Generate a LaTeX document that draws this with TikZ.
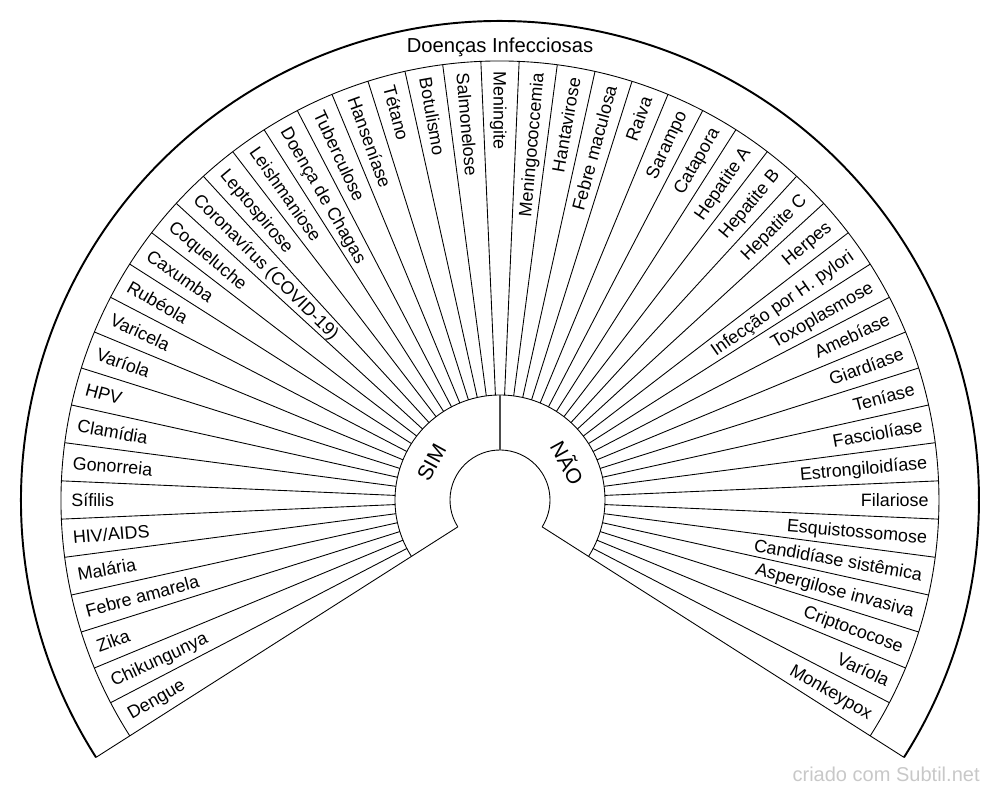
\documentclass[tikz,border=0pt]{standalone}
\usepackage{fontspec}
\setmainfont{Liberation Sans}

\begin{document}
\begin{tikzpicture}[
leafL/.style={font=\fontsize{10.2}{12}\selectfont,inner sep=0pt,text height=7.3pt,text depth=0pt,anchor=west},
leafR/.style={leafL,anchor=east},
spoke/.style={line width=0.5pt},
]
\useasboundingbox (-10,-5.94) rectangle (10,10);
% rings
\draw[spoke] (212.5:1) arc[start angle=212.5,end angle=-32.5,radius=1];
\draw[spoke] (212.5:2.1) arc[start angle=212.5,end angle=-32.5,radius=2.1];
\draw[spoke] (212.5:8.78) arc[start angle=212.5,end angle=-32.5,radius=8.78];
\draw[line width=1.1pt] (212.5:9.58) arc[start angle=212.5,end angle=-32.5,radius=9.58];
\draw[spoke] (212.5:1) -- (212.5:9.58);
\draw[spoke] (-32.5:1) -- (-32.5:9.58);
\draw[line width=0.8pt,black!70] (90:1) -- (90:2.1);
% spokes
\draw[spoke] (207.5:2.1) -- (207.5:8.78);
\draw[spoke] (202.5:2.1) -- (202.5:8.78);
\draw[spoke] (197.5:2.1) -- (197.5:8.78);
\draw[spoke] (192.5:2.1) -- (192.5:8.78);
\draw[spoke] (187.5:2.1) -- (187.5:8.78);
\draw[spoke] (182.5:2.1) -- (182.5:8.78);
\draw[spoke] (177.5:2.1) -- (177.5:8.78);
\draw[spoke] (172.5:2.1) -- (172.5:8.78);
\draw[spoke] (167.5:2.1) -- (167.5:8.78);
\draw[spoke] (162.5:2.1) -- (162.5:8.78);
\draw[spoke] (157.5:2.1) -- (157.5:8.78);
\draw[spoke] (152.5:2.1) -- (152.5:8.78);
\draw[spoke] (147.5:2.1) -- (147.5:8.78);
\draw[spoke] (142.5:2.1) -- (142.5:8.78);
\draw[spoke] (137.5:2.1) -- (137.5:8.78);
\draw[spoke] (132.5:2.1) -- (132.5:8.78);
\draw[spoke] (127.5:2.1) -- (127.5:8.78);
\draw[spoke] (122.5:2.1) -- (122.5:8.78);
\draw[spoke] (117.5:2.1) -- (117.5:8.78);
\draw[spoke] (112.5:2.1) -- (112.5:8.78);
\draw[spoke] (107.5:2.1) -- (107.5:8.78);
\draw[spoke] (102.5:2.1) -- (102.5:8.78);
\draw[spoke] (97.5:2.1) -- (97.5:8.78);
\draw[spoke] (92.5:2.1) -- (92.5:8.78);
\draw[spoke] (87.5:2.1) -- (87.5:8.78);
\draw[spoke] (82.5:2.1) -- (82.5:8.78);
\draw[spoke] (77.5:2.1) -- (77.5:8.78);
\draw[spoke] (72.5:2.1) -- (72.5:8.78);
\draw[spoke] (67.5:2.1) -- (67.5:8.78);
\draw[spoke] (62.5:2.1) -- (62.5:8.78);
\draw[spoke] (57.5:2.1) -- (57.5:8.78);
\draw[spoke] (52.5:2.1) -- (52.5:8.78);
\draw[spoke] (47.5:2.1) -- (47.5:8.78);
\draw[spoke] (42.5:2.1) -- (42.5:8.78);
\draw[spoke] (37.5:2.1) -- (37.5:8.78);
\draw[spoke] (32.5:2.1) -- (32.5:8.78);
\draw[spoke] (27.5:2.1) -- (27.5:8.78);
\draw[spoke] (22.5:2.1) -- (22.5:8.78);
\draw[spoke] (17.5:2.1) -- (17.5:8.78);
\draw[spoke] (12.5:2.1) -- (12.5:8.78);
\draw[spoke] (7.5:2.1) -- (7.5:8.78);
\draw[spoke] (2.5:2.1) -- (2.5:8.78);
\draw[spoke] (-2.5:2.1) -- (-2.5:8.78);
\draw[spoke] (-7.5:2.1) -- (-7.5:8.78);
\draw[spoke] (-12.5:2.1) -- (-12.5:8.78);
\draw[spoke] (-17.5:2.1) -- (-17.5:8.78);
\draw[spoke] (-22.5:2.1) -- (-22.5:8.78);
\draw[spoke] (-27.5:2.1) -- (-27.5:8.78);

\node[font=\fontsize{11.5}{14}\selectfont] (root) at (90:9.06) {Doenças Infecciosas};
\node[font=\fontsize{12}{14}\selectfont,rotate=61.25] (sim) at (151.25:1.56) {SIM};
\node[font=\fontsize{12}{14}\selectfont,rotate=-61.25] (nao) at (28.75:1.56) {NÃO};

% SIM
\node[leafL,rotate=30] (dengue) at (210:8.58) {Dengue};
\node[leafL,rotate=25] (chik) at (205:8.58) {Chikungunya};
\node[leafL,rotate=20] (zika) at (200:8.58) {Zika};
\node[leafL,rotate=15] (febream) at (195:8.58) {Febre amarela};
\node[leafL,rotate=10] (malaria) at (190:8.58) {Malária};
\node[leafL,rotate=5] (hiv) at (185:8.58) {HIV/AIDS};
\node[leafL,rotate=0] (sifilis) at (180:8.58) {Sífilis};
\node[leafL,rotate=-5] (gonorreia) at (175:8.58) {Gonorreia};
\node[leafL,rotate=-10] (clamidia) at (170:8.58) {Clamídia};
\node[leafL,rotate=-15] (hpv) at (165:8.58) {HPV};
\node[leafL,rotate=-20] (variolaS) at (160:8.58) {Varíola};
\node[leafL,rotate=-25] (varicela) at (155:8.58) {Varicela};
\node[leafL,rotate=-30] (rubeola) at (150:8.58) {Rubéola};
\node[leafL,rotate=-35] (caxumba) at (145:8.58) {Caxumba};
\node[leafL,rotate=-40] (coqueluche) at (140:8.58) {Coqueluche};
\node[leafL,rotate=-45] (covid) at (135:8.58) {Coronavírus (COVID-19)};
\node[leafL,rotate=-50] (lepto) at (130:8.58) {Leptospirose};
\node[leafL,rotate=-55] (leish) at (125:8.58) {Leishmaniose};
\node[leafL,rotate=-60] (chagas) at (120:8.58) {Doença de Chagas};
\node[leafL,rotate=-65] (tuberc) at (115:8.58) {Tuberculose};
\node[leafL,rotate=-70] (hansen) at (110:8.58) {Hanseníase};
\node[leafL,rotate=-75] (tetano) at (105:8.58) {Tétano};
\node[leafL,rotate=-80] (botul) at (100:8.58) {Botulismo};
\node[leafL,rotate=-85] (salmo) at (95:8.58) {Salmonelose};
\node[leafL,rotate=-90] (mening) at (90:8.58) {Meningite};

% NAO
\node[leafR,rotate=85] (meningoc) at (85:8.58) {Meningococcemia};
\node[leafR,rotate=80] (hanta) at (80:8.58) {Hantavirose};
\node[leafR,rotate=75] (febremac) at (75:8.58) {Febre maculosa};
\node[leafR,rotate=70] (raiva) at (70:8.58) {Raiva};
\node[leafR,rotate=65] (sarampo) at (65:8.58) {Sarampo};
\node[leafR,rotate=60] (catapora) at (60:8.58) {Catapora};
\node[leafR,rotate=55] (hepA) at (55:8.58) {Hepatite A};
\node[leafR,rotate=50] (hepB) at (50:8.58) {Hepatite B};
\node[leafR,rotate=45] (hepC) at (45:8.58) {Hepatite C};
\node[leafR,rotate=40] (herpes) at (40:8.58) {Herpes};
\node[leafR,rotate=35] (pylori) at (35:8.58) {Infecção por H. pylori};
\node[leafR,rotate=30] (toxo) at (30:8.58) {Toxoplasmose};
\node[leafR,rotate=25] (ameb) at (25:8.58) {Amebíase};
\node[leafR,rotate=20] (giard) at (20:8.58) {Giardíase};
\node[leafR,rotate=15] (tenia) at (15:8.58) {Teníase};
\node[leafR,rotate=10] (fasc) at (10:8.58) {Fasciolíase};
\node[leafR,rotate=5] (estr) at (5:8.58) {Estrongiloidíase};
\node[leafR,rotate=0] (filar) at (0:8.58) {Filariose};
\node[leafR,rotate=-5] (esquis) at (-5:8.58) {Esquistossomose};
\node[leafR,rotate=-10] (candida) at (-10:8.58) {Candidíase sistêmica};
\node[leafR,rotate=-15] (asperg) at (-15:8.58) {Aspergilose invasiva};
\node[leafR,rotate=-20] (cripto) at (-20:8.58) {Criptococose};
\node[leafR,rotate=-25] (variolaN) at (-25:8.58) {Varíola};
\node[leafR,rotate=-30] (monkey) at (-30:8.58) {Monkeypox};

\node[font=\fontsize{11.4}{14}\selectfont,text={rgb,255:red,200;green,200;blue,200},anchor=base east,inner sep=0pt] (credit) at (9.6,-5.64) {criado com Subtil.net};
\end{tikzpicture}
\end{document}
